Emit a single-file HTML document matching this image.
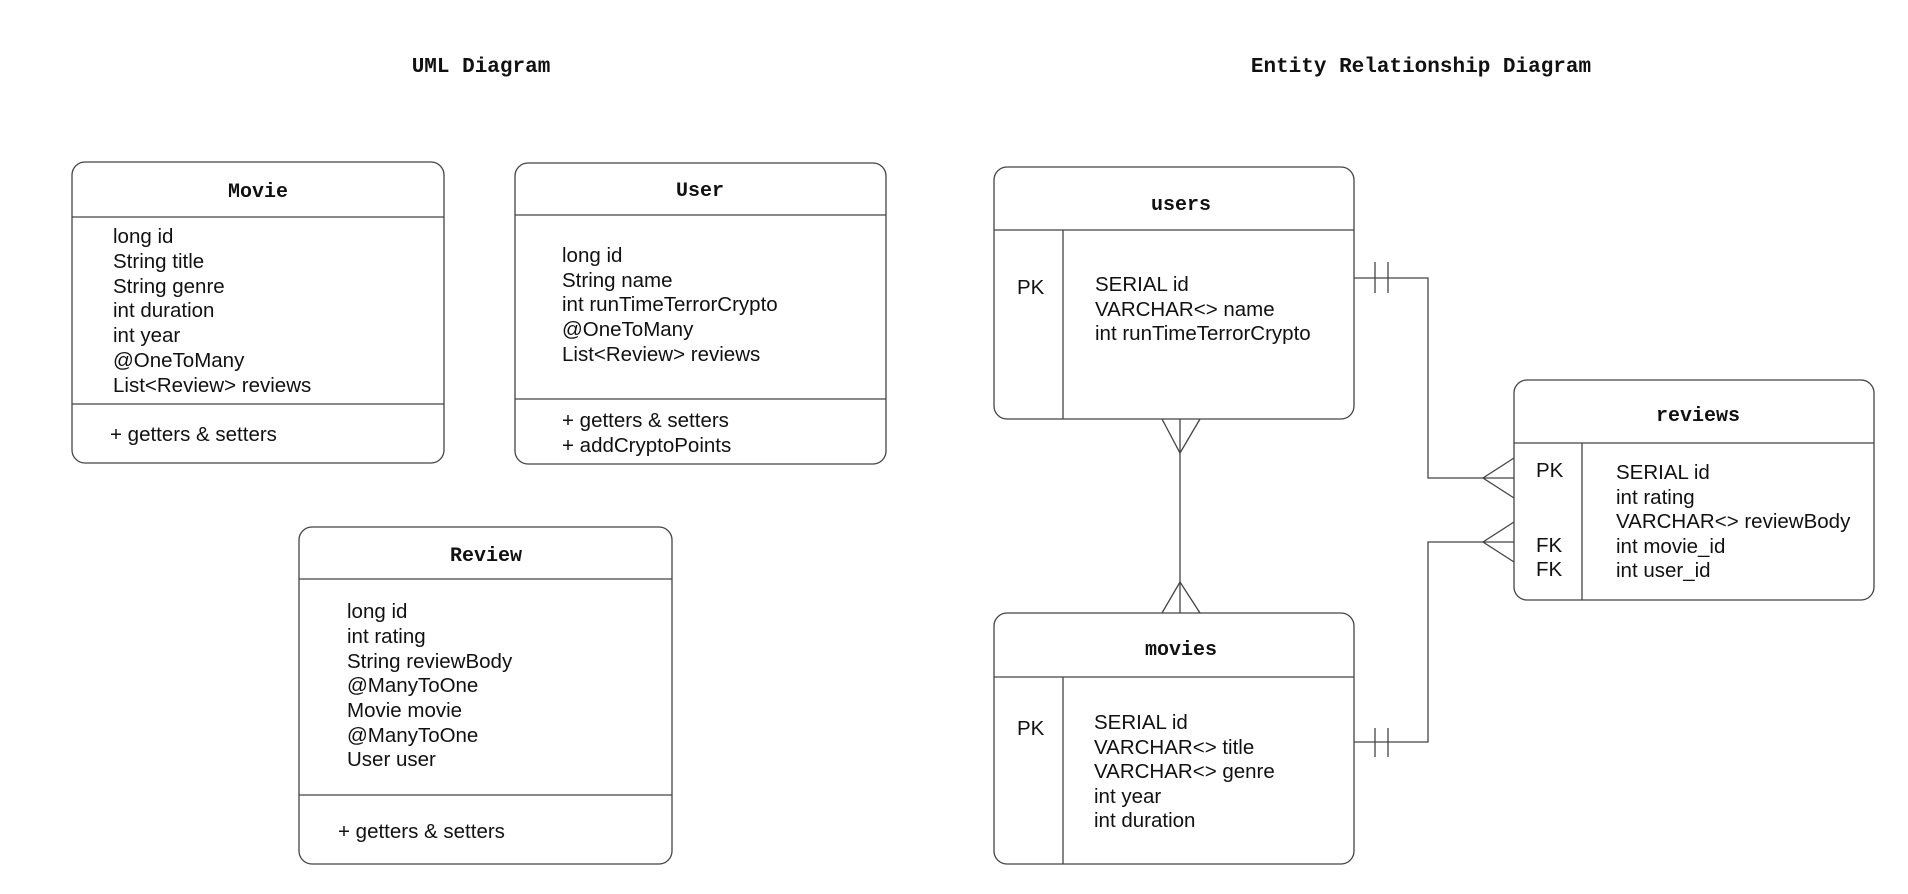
<!DOCTYPE html>
<html><head><meta charset="utf-8"><style>
html,body{margin:0;padding:0;background:#fff;}
svg{display:block}
.h{font-family:"Liberation Mono",monospace;font-size:20px;font-weight:bold;fill:#111;text-anchor:middle}
.t{font-family:"Liberation Sans",sans-serif;font-size:20.5px;fill:#111}
.b{fill:#fff;stroke:#444;stroke-width:1.3}
.l{stroke:#444;stroke-width:1.3;fill:none}
</style></head><body>
<svg width="1908" height="894" viewBox="0 0 1908 894" xmlns="http://www.w3.org/2000/svg">
<text class="h" x="481" y="72" style="font-size:21px">UML Diagram</text>
<text class="h" x="1421" y="72" style="font-size:21px">Entity Relationship Diagram</text>

<!-- Movie -->
<rect class="b" x="72" y="162" width="372" height="301" rx="13"/>
<line class="l" x1="72" y1="217" x2="444" y2="217"/>
<line class="l" x1="72" y1="404" x2="444" y2="404"/>
<text class="h" x="258" y="197">Movie</text>
<g class="t">
<text x="113" y="243">long id</text>
<text x="113" y="268">String title</text>
<text x="113" y="293">String genre</text>
<text x="113" y="317">int duration</text>
<text x="113" y="342">int year</text>
<text x="113" y="367">@OneToMany</text>
<text x="113" y="392">List&lt;Review&gt; reviews</text>
<text x="110" y="441">+ getters &amp; setters</text>
</g>

<!-- User -->
<rect class="b" x="515" y="163" width="371" height="301" rx="13"/>
<line class="l" x1="515" y1="215" x2="886" y2="215"/>
<line class="l" x1="515" y1="399" x2="886" y2="399"/>
<text class="h" x="700" y="196">User</text>
<g class="t">
<text x="562" y="262">long id</text>
<text x="562" y="287">String name</text>
<text x="562" y="311">int runTimeTerrorCrypto</text>
<text x="562" y="336">@OneToMany</text>
<text x="562" y="361">List&lt;Review&gt; reviews</text>
<text x="562" y="427">+ getters &amp; setters</text>
<text x="562" y="452">+ addCryptoPoints</text>
</g>

<!-- Review -->
<rect class="b" x="299" y="527" width="373" height="337" rx="13"/>
<line class="l" x1="299" y1="579" x2="672" y2="579"/>
<line class="l" x1="299" y1="795" x2="672" y2="795"/>
<text class="h" x="486" y="561">Review</text>
<g class="t">
<text x="347" y="618">long id</text>
<text x="347" y="643">int rating</text>
<text x="347" y="668">String reviewBody</text>
<text x="347" y="692">@ManyToOne</text>
<text x="347" y="717">Movie movie</text>
<text x="347" y="742">@ManyToOne</text>
<text x="347" y="766">User user</text>
<text x="338" y="838">+ getters &amp; setters</text>
</g>

<!-- users -->
<rect class="b" x="994" y="167" width="360" height="252" rx="13"/>
<line class="l" x1="994" y1="230" x2="1354" y2="230"/>
<line class="l" x1="1063" y1="230" x2="1063" y2="419"/>
<text class="h" x="1181" y="210">users</text>
<g class="t">
<text x="1017" y="294">PK</text>
<text x="1095" y="291">SERIAL id</text>
<text x="1095" y="316">VARCHAR&lt;&gt; name</text>
<text x="1095" y="340">int runTimeTerrorCrypto</text>
</g>

<!-- movies -->
<rect class="b" x="994" y="613" width="360" height="251" rx="13"/>
<line class="l" x1="994" y1="677" x2="1354" y2="677"/>
<line class="l" x1="1063" y1="677" x2="1063" y2="864"/>
<text class="h" x="1181" y="655">movies</text>
<g class="t">
<text x="1017" y="735">PK</text>
<text x="1094" y="729">SERIAL id</text>
<text x="1094" y="754">VARCHAR&lt;&gt;  title</text>
<text x="1094" y="778">VARCHAR&lt;&gt;  genre</text>
<text x="1094" y="803">int year</text>
<text x="1094" y="827">int duration</text>
</g>

<!-- reviews -->
<rect class="b" x="1514" y="380" width="360" height="220" rx="13"/>
<line class="l" x1="1514" y1="443" x2="1874" y2="443"/>
<line class="l" x1="1582" y1="443" x2="1582" y2="600"/>
<text class="h" x="1698" y="421">reviews</text>
<g class="t">
<text x="1536" y="477">PK</text>
<text x="1536" y="552">FK</text>
<text x="1536" y="576">FK</text>
<text x="1616" y="479">SERIAL id</text>
<text x="1616" y="504">int rating</text>
<text x="1616" y="528">VARCHAR&lt;&gt; reviewBody</text>
<text x="1616" y="553">int movie_id</text>
<text x="1616" y="577">int user_id</text>
</g>

<!-- connectors -->
<polyline class="l" points="1354,278 1428,278 1428,478 1514,478"/>
<line class="l" x1="1375" y1="262" x2="1375" y2="293"/>
<line class="l" x1="1388" y1="262" x2="1388" y2="293"/>
<polyline class="l" points="1514,458 1483,478 1514,498"/>

<polyline class="l" points="1354,742 1428,742 1428,542 1514,542"/>
<line class="l" x1="1375" y1="728" x2="1375" y2="757"/>
<line class="l" x1="1388" y1="728" x2="1388" y2="757"/>
<polyline class="l" points="1514,522 1483,542 1514,562"/>

<line class="l" x1="1180" y1="419" x2="1180" y2="613"/>
<polyline class="l" points="1162,419 1180,453 1200,419"/>
<polyline class="l" points="1162,613 1180,582 1200,613"/>
</svg>
</body></html>
